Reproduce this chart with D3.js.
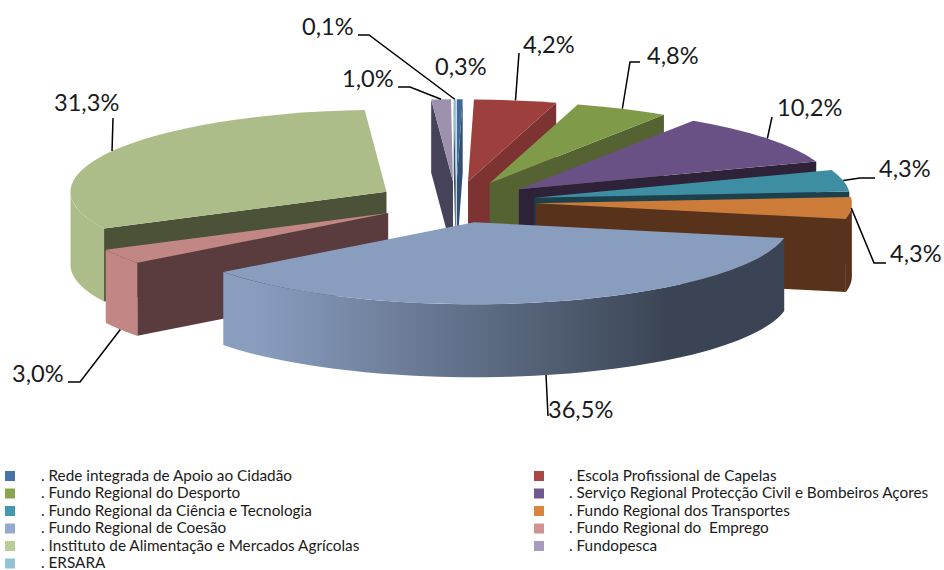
<!DOCTYPE html>
<html>
<head>
<meta charset="utf-8">
<script src="https://cdn.jsdelivr.net/npm/d3@7"></script>
<style>
  html, body { margin: 0; padding: 0; background: #fff; overflow: hidden; }
  text { font-family: Lato, "Open Sans", sans-serif; fill: #1a1a1a; }
</style>
</head>
<body>
<div id="viz"></div>
<script>
const width = 944, height = 570;

// data, clockwise from 12 o'clock
const categories = [
  ". Rede integrada de Apoio ao Cidadão",
  ". Escola Profissional de Capelas",
  ". Fundo Regional do Desporto",
  ". Serviço Regional Protecção Civil e Bombeiros Açores",
  ". Fundo Regional da Ciência e Tecnologia",
  ". Fundo Regional dos Transportes",
  ". Fundo Regional de Coesão",
  ". Fundo Regional do  Emprego",
  ". Instituto de Alimentação e Mercados Agrícolas",
  ". Fundopesca",
  ". ERSARA"
];
const values = [0.3, 4.2, 4.8, 10.2, 4.3, 4.3, 36.5, 3.0, 31.3, 1.0, 0.1];
const valueLabels = ["0,3%", "4,2%", "4,8%", "10,2%", "4,3%", "4,3%", "36,5%", "3,0%", "31,3%", "1,0%", "0,1%"];

// colours
const legendColors = ["#4572a7", "#aa4643", "#89a54e", "#71588f", "#4198af", "#db843d", "#93a9cf", "#d19392", "#b9cd96", "#a99bbd", "#92c3d4"];
const topColors = ["#3f6a9c", "#9c3f3d", "#7f9a48", "#6a5185", "#3d8ea3", "#cc7b38", "#899dbf", "#c28685", "#adbd8a", "#9e91b0", "#88b6c6"];
const wallColors = ["#2f4f74", "#7d3331", "#546331", "#2e2238", "#1c414c", "#58321a", "#3a4454", "#5b3c3e", "#4c5238", "#45425a", "#3a5560"];

// label layout: text start + baseline, elbow of the leader line (null = none)
const labelX = [435, 523, 647, 777, 879, 890, 548, 12, 54, 342, 302];
const labelY = [75, 53, 64, 116, 177, 262, 418, 382, 111, 87, 35];
const leaderStart = [null, [519, 53], [640, 62], [772, 117], [875, 178], [886, 263], [548, 416], [68, 382], [113, 118], [398, 87], [358, 35]];
const leaderElbow = [null, null, [630, 62], null, [860, 178], [874, 263], null, [80, 382], null, [410, 87], [369, 35]];

// pie geometry
const cx = 456, cy = 202, rx = 316, ry = 82, depth = 73, explode = 80;
const k = ry / rx;

const svg = d3.select("#viz").append("svg")
  .attr("width", width)
  .attr("height", height);
const defs = svg.append("defs");

const slices = d3.pie().sort(null).value(d => d)(values).map((d, i) => {
  const mid = (d.startAngle + d.endAngle) / 2;
  return {
    ...d, i, mid,
    ax: cx + explode * Math.sin(mid),
    ay: cy - explode * k * Math.cos(mid)
  };
});

const arc = d3.arc().innerRadius(0).outerRadius(rx);
const line = d3.line();
const rimPoint = (d, a, dz = 0) => [
  d.ax + rx * Math.sin(a),
  d.ay - ry * Math.cos(a) + dz
];

// side face along one radial edge of a slice
function wallPath(d, a) {
  return line([[d.ax, d.ay], rimPoint(d, a), rimPoint(d, a, depth), [d.ax, d.ay + depth]]) + "Z";
}

// outer curved face, only the part turned towards the viewer
function rimPath(d) {
  const a0 = Math.max(d.startAngle, Math.PI / 2);
  const a1 = Math.min(d.endAngle, Math.PI * 1.5);
  if (a1 <= a0) return null;
  const steps = d3.range(0, 61).map(t => a0 + (a1 - a0) * t / 60);
  const pts = steps.map(a => rimPoint(d, a)).concat(steps.slice().reverse().map(a => rimPoint(d, a, depth)));
  return line(pts) + "Z";
}

// rim gets darker from left to right
slices.forEach(d => {
  const g = defs.append("linearGradient")
    .attr("id", "rim" + d.i)
    .attr("gradientUnits", "userSpaceOnUse")
    .attr("x1", 255).attr("x2", 670).attr("y1", 0).attr("y2", 0);
  g.append("stop").attr("offset", 0).attr("stop-color", topColors[d.i]);
  g.append("stop").attr("offset", 1).attr("stop-color", wallColors[d.i]);
});

// back to front
const order = slices.slice().sort((a, b) => d3.ascending(a.ay, b.ay));
const chart = svg.append("g");
order.forEach(d => {
  const g = chart.append("g");
  if (Math.sin(d.endAngle) > 0) {
    g.append("path").attr("d", wallPath(d, d.endAngle)).attr("fill", wallColors[d.i]);
  }
  if (Math.sin(d.startAngle) < 0) {
    g.append("path").attr("d", wallPath(d, d.startAngle)).attr("fill", wallColors[d.i]);
  }
  const rim = rimPath(d);
  if (rim) g.append("path").attr("d", rim).attr("fill", `url(#rim${d.i})`);
  g.append("path")
    .attr("d", arc(d))
    .attr("transform", `translate(${d.ax},${d.ay}) scale(1,${k})`)
    .attr("fill", topColors[d.i]);
});

// leader lines
slices.forEach(d => {
  if (!leaderStart[d.i]) return;
  const front = -Math.cos(d.mid) > 0.2;
  const pts = [leaderStart[d.i]];
  if (leaderElbow[d.i]) pts.push(leaderElbow[d.i]);
  pts.push(rimPoint(d, d.mid, front ? depth : 0));
  svg.append("path")
    .attr("d", line(pts))
    .attr("fill", "none")
    .attr("stroke", "#000")
    .attr("stroke-width", 1.5);
});

// value labels
svg.append("g").selectAll("text")
  .data(valueLabels)
  .enter()
  .append("text")
  .attr("x", (d, i) => labelX[i])
  .attr("y", (d, i) => labelY[i])
  .attr("font-size", 23.6)
  .text(d => d);

// legend, two columns filled row by row
const legendX = [5, 534];
const legendTextX = [41, 569];
const rowY = i => 476 + 17.5 * Math.floor(i / 2);

const legend = svg.append("g");
categories.forEach((name, i) => {
  const col = i % 2;
  legend.append("rect")
    .attr("x", legendX[col])
    .attr("y", rowY(i) - 5)
    .attr("width", 10)
    .attr("height", 10)
    .attr("fill", legendColors[i]);
  legend.append("text")
    .attr("x", legendTextX[col])
    .attr("y", rowY(i) + 4.5)
    .attr("font-size", 15.3)
    .style("white-space", "pre")
    .text(name);
});
</script>
</body>
</html>
